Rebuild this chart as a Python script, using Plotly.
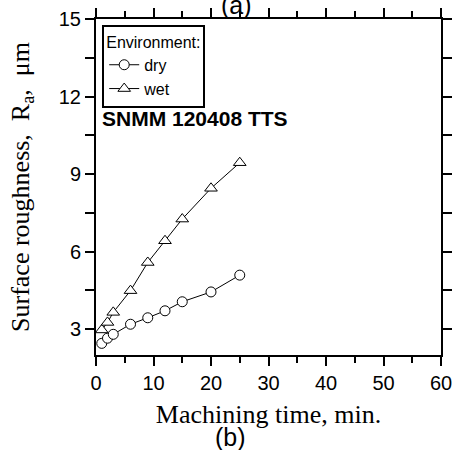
import plotly.graph_objects as go

time_min = [1, 2, 3, 6, 9, 12, 15, 20, 25]
ra_dry = [2.45, 2.65, 2.80, 3.19, 3.44, 3.71, 4.06, 4.44, 5.09]
ra_wet = [2.97, 3.26, 3.65, 4.49, 5.58, 6.42, 7.26, 8.45, 9.44]
x_ticks = [0, 10, 20, 30, 40, 50, 60]
y_ticks = [3, 6, 9, 12, 15]

fig = go.Figure()
fig.add_trace(go.Scatter(
    x=time_min, y=ra_dry, name="dry", mode="lines+markers",
    line=dict(color="black", width=1),
    marker=dict(symbol="circle", size=10, color="white", line=dict(color="black", width=1)),
))
fig.add_trace(go.Scatter(
    x=time_min, y=ra_wet, name="wet", mode="lines+markers",
    line=dict(color="black", width=1),
    marker=dict(symbol="triangle-up", size=11, color="white", line=dict(color="black", width=1)),
))

axis_common = dict(
    showline=True, linecolor="black", linewidth=2, mirror="ticks",
    ticks="outside", ticklen=9, tickwidth=1.5, tickcolor="black",
    showgrid=False, zeroline=False, automargin=False,
    tickfont=dict(family="Arial, Liberation Sans", size=20, color="black"),
)

fig.update_layout(
    width=455, height=450,
    margin=dict(l=96, r=14, t=19, b=95),
    paper_bgcolor="white", plot_bgcolor="white",
    showlegend=True,
    legend=dict(
        title=dict(text="Environment:", font=dict(family="Arial, Liberation Sans", size=16, color="black")),
        font=dict(family="Arial, Liberation Sans", size=16, color="black"),
        x=0.018, y=0.982, xanchor="left", yanchor="top",
        bordercolor="black", borderwidth=2, bgcolor="white",
        tracegroupgap=0, itemwidth=30,
    ),
    xaxis=dict(
        range=[0, 60], tickvals=x_ticks,
        minor=dict(dtick=5, ticks="outside", ticklen=6, tickcolor="black", tickwidth=1.5),
        title=dict(text="Machining time, min.", standoff=12,
                   font=dict(family="Times New Roman, Liberation Serif", size=26, color="black")),
        **axis_common,
    ),
    yaxis=dict(
        range=[2, 15], tickvals=y_ticks,
        minor=dict(tickvals=[4.5, 7.5, 10.5, 13.5], ticks="outside", ticklen=9, tickcolor="black", tickwidth=1.5),
        title=dict(text="Surface roughness,  R<sub>a</sub>,  \u03bcm", standoff=22,
                   font=dict(family="Times New Roman, Liberation Serif", size=26, color="black")),
        **axis_common,
    ),
    annotations=[
        dict(text="<b>SNMM 120408 TTS</b>", xref="paper", yref="paper", x=0.012, y=0.705,
             xanchor="left", yanchor="middle", showarrow=False,
             font=dict(family="Arial, Liberation Sans", size=21, color="black")),
        dict(text="(a)", xref="paper", yref="paper", x=0.408, y=1.042,
             xanchor="center", yanchor="middle", showarrow=False,
             font=dict(family="Arial, Liberation Sans", size=25, color="black")),
        dict(text="(b)", xref="paper", yref="paper", x=0.39, y=-0.244,
             xanchor="center", yanchor="middle", showarrow=False,
             font=dict(family="Arial, Liberation Sans", size=25, color="black")),
    ],
)

fig.write_html("out.html", config={"displayModeBar": False},
               post_script="document.body.style.margin='0';")
